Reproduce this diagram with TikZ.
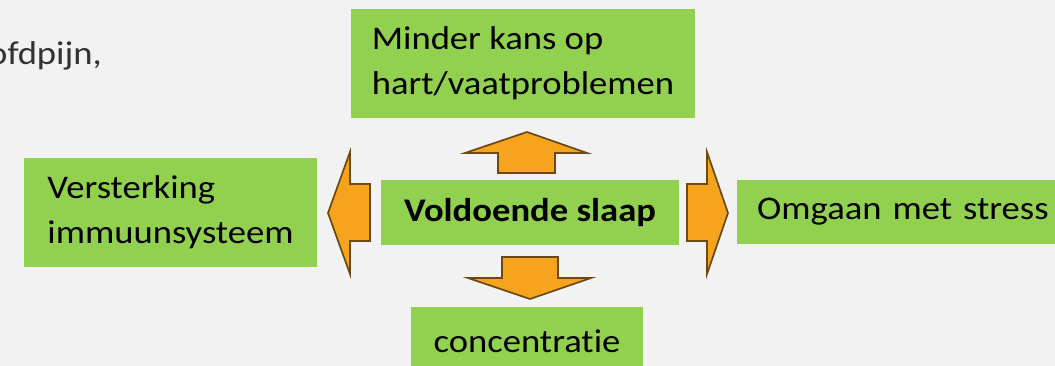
\documentclass[tikz,border=0pt]{standalone}
\usepackage{fontspec}
\setmainfont{Carlito}[FakeStretch=1.11, Ligatures=NoCommon]
\usepackage{xcolor}
\usetikzlibrary{positioning}
\definecolor{slaapgroen}{RGB}{146, 208, 80}
\definecolor{pijloranje}{RGB}{246, 164, 30}
\definecolor{pijlrand}{RGB}{108, 72, 18}
\definecolor{achtergrond}{RGB}{242, 242, 242}
\definecolor{grijstekst}{RGB}{50, 50, 50}

\begin{document}
\begin{tikzpicture}[
  x=1pt, y=-1pt,
  effect/.style={
    fill=slaapgroen, draw=none,
    font=\fontsize{33}{45}\selectfont, text=black,
    align=left, inner xsep=0pt, inner ysep=0pt
  },
  blokpijl/.style={
    fill=pijloranje, draw=pijlrand, line width=1.7pt,
    line join=miter
  }
]
\useasboundingbox (0,0) rectangle (1055,366);
\fill[achtergrond] (0,0) rectangle (1055,366);

\node[font=\fontsize{33}{45}\selectfont, text=grijstekst, anchor=base east,
  inner sep=0pt] (hoofdpijn) at (102,65) {ofdpijn,};

\node[effect, minimum width=298pt, minimum height=65pt, align=center,
  font=\fontsize{33}{45}\selectfont\bfseries] (slaap) at (530,212.5) {Voldoende slaap};
\node[effect, minimum width=344pt, minimum height=109pt] (hart) at (523,63.5)
  {Minder kans op\\hart/vaatproblemen};
\node[effect, minimum width=293pt, minimum height=109pt] (immuun) at (170.5,212.5)
  {Versterking\\immuunsysteem};
\node[effect, inner xsep=20pt, text width=340pt, minimum height=64pt,
  anchor=west] (stress) at (737,212) {Omgaan met stress};
\node[effect, minimum width=232pt, minimum height=68pt] (concentratie) at (527,341)
  {concentratie};

% pijlen vanuit het midden
\draw[blokpijl] (527,132) -- (587,153) -- (555,153) -- (555,173)
  -- (498,173) -- (498,153) -- (465,153) -- cycle;
\draw[blokpijl] (530,299) -- (591,278) -- (558,278) -- (558,257)
  -- (502,257) -- (502,278) -- (468,278) -- cycle;
\draw[blokpijl] (328,213) -- (350,152) -- (350,184) -- (370,184)
  -- (370,241) -- (350,241) -- (350,274) -- cycle;
\draw[blokpijl] (728,213) -- (707,152) -- (707,184) -- (687,184)
  -- (687,241) -- (707,241) -- (707,274) -- cycle;
\end{tikzpicture}
\end{document}
